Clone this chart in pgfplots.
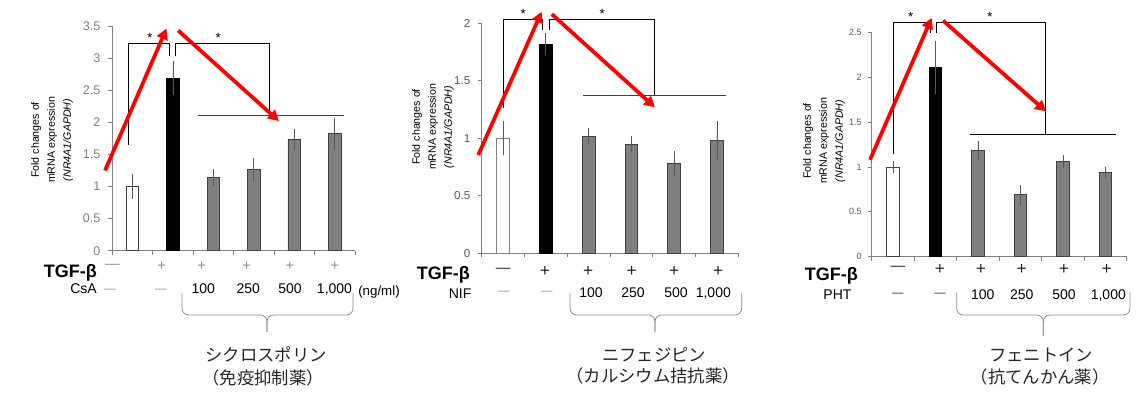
\documentclass[border=0pt]{standalone}
\usepackage{pgfplots}
\pgfplotsset{compat=1.18}
\usepackage{fontspec}
\setmainfont{Liberation Sans}
\newfontfamily\jp{Noto Sans CJK JP}
\usetikzlibrary{arrows.meta}
\definecolor{barGray}{HTML}{7F7F7F}
\definecolor{edgeGray}{HTML}{404040}
\definecolor{errGray}{HTML}{595959}
\definecolor{axGray}{HTML}{808080}
\definecolor{tickTxtA}{HTML}{7F7F7F}
\definecolor{tickTxtB}{HTML}{595959}
\definecolor{signLight}{HTML}{8C8C8C}
\definecolor{signDark}{HTML}{262626}
\definecolor{braceGray}{HTML}{8C8C8C}
\definecolor{arrowRed}{HTML}{FF0000}

\pgfplotsset{
  panel/.style={
    scale only axis, anchor=south west,
    xmin=-0.5, xmax=5.5, ymin=0,
    axis x line*=bottom, axis y line*=left,
    axis line style={axGray, line width=0.6pt},
    xtick={-0.5,0.5,...,5.5}, xticklabels={},
    xtick align=outside, ytick align=outside,
    major tick length=3pt,
    tick style={axGray, line width=0.6pt},
    ybar, bar width=9.5pt,
    clip=false,
    /pgf/number format/assume math mode=true,
  },
  eb/.style={bar shift=0pt, draw=edgeGray, line width=0.6pt,
    error bars/y dir=both, error bars/y explicit,
    error bars/error bar style={errGray, line width=0.6pt},
    error bars/error mark options={errGray, line width=0.6pt, mark size=2.3pt}},
}
\tikzset{
  star/.style={anchor=base, inner sep=0pt, font=\fontsize{10}{10}\selectfont, yshift=1pt},
  brk/.style={black, line width=0.7pt},
  hl/.style={black!75, line width=0.7pt},
  redarr/.style={arrowRed, line width=2.8pt, -{Triangle[length=8pt,width=8.5pt]}},
}

\begin{document}
\begin{tikzpicture}[x=0.75pt,y=-0.75pt]
\useasboundingbox (0,0) rectangle (1141,399);

% ---------------- Panel 1 (CsA) ----------------
\begin{axis}[panel, at={(84.225pt,-188.025pt)}, width=182.0pt, height=168.5pt,
  ymax=3.5, ytick={0,0.5,...,3.5},
  yticklabel style={font=\fontsize{9.4}{10}\selectfont, text=tickTxtA, xshift=-2.5pt}]
\addplot[eb, fill=white] coordinates {(0,1.00) +- (0,0.14)};
\addplot[eb, fill=black, draw=black] coordinates {(1,2.69) +- (0,0.22)};
\addplot[eb, fill=barGray] coordinates {(2,1.14) +- (0,0.08) (3,1.26) +- (0,0.13) (4,1.73) +- (0,0.12) (5,1.82) +- (0,0.20)};
\draw[brk] (axis cs:-0.088,1.65) -- (axis cs:-0.088,3.23) -- (axis cs:0.925,3.23) -- (axis cs:0.925,3.03);
\draw[brk] (axis cs:1.07,3.03) -- (axis cs:1.07,3.23) -- (axis cs:3.38,3.23) -- (axis cs:3.38,2.11);
\draw[hl] (axis cs:1.63,2.11) -- (axis cs:5.23,2.11);
\node[star] at (axis cs:0.43,3.23) {*};
\node[star] at (axis cs:2.12,3.23) {*};
\draw[redarr] (axis cs:-0.68,1.25) -- (axis cs:0.84,3.46);
\draw[redarr] (axis cs:1.13,3.43) -- (axis cs:3.62,2.02);
\end{axis}

% ---------------- Panel 2 (NIF) ----------------
\begin{axis}[panel, at={(361.275pt,-190.0pt)}, width=192.45pt, height=172.5pt,
  ymax=2, ytick={0,0.5,...,2},
  yticklabel style={font=\fontsize{8.7}{10}\selectfont, text=tickTxtB, xshift=-2pt}]
\addplot[eb, fill=white, draw=axGray] coordinates {(0,1.00) +- (0,0.12)};
\addplot[eb, fill=black, draw=black] coordinates {(1,1.82) +- (0,0.07)};
\addplot[eb, fill=barGray] coordinates {(2,1.02) +- (0,0.04) (3,0.95) +- (0,0.04) (4,0.78) +- (0,0.08) (5,0.98) +- (0,0.14)};
\draw[brk] (axis cs:0.02,1.26) -- (axis cs:0.02,2.03) -- (axis cs:0.916,2.03) -- (axis cs:0.916,1.94);
\draw[brk] (axis cs:1.096,1.94) -- (axis cs:1.096,2.03) -- (axis cs:3.55,2.03) -- (axis cs:3.55,1.37);
\draw[hl] (axis cs:1.87,1.37) -- (axis cs:5.22,1.37);
\node[star] at (axis cs:0.47,2.03) {*};
\node[star] at (axis cs:2.32,2.03) {*};
\draw[redarr] (axis cs:-0.58,0.855) -- (axis cs:0.90,2.10);
\draw[redarr] (axis cs:1.14,2.08) -- (axis cs:3.55,1.27);
\end{axis}

% ---------------- Panel 3 (PHT) ----------------
\begin{axis}[panel, at={(653.775pt,-192.525pt)}, width=191.25pt, height=168.3pt,
  ymax=2.5, ytick={0,0.5,...,2.5},
  yticklabel style={font=\fontsize{6.8}{8}\selectfont, text=tickTxtB, xshift=-1pt}]
\addplot[eb, fill=white] coordinates {(0,1.00) +- (0,0.03)};
\addplot[eb, fill=black, draw=black] coordinates {(1,2.11) +- (0,0.26)};
\addplot[eb, fill=barGray] coordinates {(2,1.18) +- (0,0.07) (3,0.69) +- (0,0.08) (4,1.06) +- (0,0.04) (5,0.94) +- (0,0.03)};
\draw[brk] (axis cs:0.008,1.14) -- (axis cs:0.008,2.61) -- (axis cs:0.888,2.61) -- (axis cs:0.888,2.49);
\draw[brk] (axis cs:1.03,2.49) -- (axis cs:1.03,2.61) -- (axis cs:3.58,2.61) -- (axis cs:3.58,1.36);
\draw[brk] (axis cs:1.81,1.36) -- (axis cs:5.25,1.36);
\node[star] at (axis cs:0.418,2.61) {*};
\node[star] at (axis cs:2.28,2.61) {*};
\draw[redarr] (axis cs:-0.54,1.08) -- (axis cs:0.91,2.66);
\draw[redarr] (axis cs:1.18,2.63) -- (axis cs:3.60,1.62);
\end{axis}

% ---------------- Y labels ----------------
\node[rotate=90, align=center, font=\fontsize{8}{12}\selectfont] at (52,140) {Fold changes of\\mRNA expression\\\textit{(NR4A1/GAPDH)}};
\node[rotate=90, align=center, font=\fontsize{8}{12}\selectfont] at (433,127) {Fold changes of\\mRNA expression\\\textit{(NR4A1/GAPDH)}};
\node[rotate=90, align=center, font=\fontsize{8}{12}\selectfont] at (824,141) {Fold changes of\\mRNA expression\\\textit{(NR4A1/GAPDH)}};

% ---------------- Row labels panel 1 ----------------
\begin{scope}[every node/.style={inner sep=0pt}]
\node[anchor=base east, font=\fontsize{13.5}{14}\selectfont\bfseries] at (97,277) {TGF-β};
\node[anchor=base east, font=\fontsize{10.5}{12}\selectfont] at (97,293) {CsA};
\foreach \xx in {161.7,201.7,246.7,290,335}{\node[text=signLight, font=\fontsize{11}{12}\selectfont] at (\xx,266.7) {+};}
\node[text=signLight, font=\fontsize{11}{12}\selectfont] at (112.5,266) {—};
\node[text=signLight, font=\fontsize{8.5}{10}\selectfont] at (110,290.7) {—};
\node[text=signLight, font=\fontsize{8.5}{10}\selectfont] at (160.7,290.7) {—};
\node[anchor=base, font=\fontsize{10.5}{12}\selectfont] at (203.3,293) {100};
\node[anchor=base, font=\fontsize{10.5}{12}\selectfont] at (248.3,293) {250};
\node[anchor=base, font=\fontsize{10.5}{12}\selectfont] at (290,293) {500};
\node[anchor=base, font=\fontsize{10.5}{12}\selectfont] at (334.5,293) {1,000};
\node[anchor=base west, font=\fontsize{10}{12}\selectfont] at (358,295) {(ng/ml)};

% ---------------- Row labels panel 2 ----------------
\node[anchor=base east, font=\fontsize{13.5}{14}\selectfont\bfseries] at (470,279) {TGF-β};
\node[anchor=base east, font=\fontsize{10.5}{12}\selectfont] at (471.7,298) {NIF};
\foreach \xx in {545,588.3,631.7,674.3,718.3}{\node[text=signDark, font=\fontsize{13}{14}\selectfont] at (\xx,271) {+};}
\node[text=signDark, font=\fontsize{11}{12}\selectfont] at (503.3,270) {—};
\node[text=signLight, font=\fontsize{8.5}{10}\selectfont] at (504,293.3) {—};
\node[text=signLight, font=\fontsize{8.5}{10}\selectfont] at (546.7,293.3) {—};
\node[anchor=base, font=\fontsize{10.5}{12}\selectfont] at (591,297) {100};
\node[anchor=base, font=\fontsize{10.5}{12}\selectfont] at (633,297) {250};
\node[anchor=base, font=\fontsize{10.5}{12}\selectfont] at (676,297) {500};
\node[anchor=base, font=\fontsize{10.5}{12}\selectfont] at (713.3,297) {1,000};

% ---------------- Row labels panel 3 ----------------
\node[anchor=base east, font=\fontsize{13.5}{14}\selectfont\bfseries] at (858,280) {TGF-β};
\node[anchor=base east, font=\fontsize{10.5}{12}\selectfont] at (851.7,299) {PHT};
\foreach \xx in {940,981,1021.7,1064,1106.7}{\node[text=signDark, font=\fontsize{13}{14}\selectfont] at (\xx,269) {+};}
\node[text=signDark, font=\fontsize{11}{12}\selectfont] at (898,268) {—};
\node[text=signDark, font=\fontsize{8.5}{10}\selectfont] at (897.7,295) {—};
\node[text=signDark, font=\fontsize{8.5}{10}\selectfont] at (940,295) {—};
\node[anchor=base, font=\fontsize{10.5}{12}\selectfont] at (982.7,299) {100};
\node[anchor=base, font=\fontsize{10.5}{12}\selectfont] at (1021.7,299) {250};
\node[anchor=base, font=\fontsize{10.5}{12}\selectfont] at (1064,299) {500};
\node[anchor=base, font=\fontsize{10.5}{12}\selectfont] at (1108.3,299) {1,000};
\end{scope}

% ---------------- Braces ----------------
\draw[braceGray, line width=0.6pt, rounded corners=5pt] (182,293) -- (182,315) -- (267,315) -- (267,332);
\draw[braceGray, line width=0.6pt, rounded corners=5pt] (353,293) -- (353,315) -- (267,315) -- (267,332);
\draw[braceGray, line width=0.6pt, rounded corners=5pt] (570,293) -- (570,315) -- (655,315) -- (655,332);
\draw[braceGray, line width=0.6pt, rounded corners=5pt] (741.7,293) -- (741.7,315) -- (655,315) -- (655,332);
\draw[braceGray, line width=0.6pt, rounded corners=5pt] (956.7,292) -- (956.7,315) -- (1043.3,315) -- (1043.3,336);
\draw[braceGray, line width=0.6pt, rounded corners=5pt] (1130,292) -- (1130,315) -- (1043.3,315) -- (1043.3,336);

% ---------------- Japanese captions ----------------
\node[font=\jp\fontsize{13}{14}\selectfont, text=signDark] at (266,355) {シクロスポリン};
\node[font=\jp\fontsize{13}{14}\selectfont, text=signDark] at (263,378) {（免疫抑制薬）};
\node[font=\jp\fontsize{13}{14}\selectfont, text=signDark] at (654,355) {ニフェジピン};
\node[font=\jp\fontsize{13}{14}\selectfont, text=signDark] at (653,376) {（カルシウム拮抗薬）};
\node[font=\jp\fontsize{13}{14}\selectfont, text=signDark] at (1041,355) {フェニトイン};
\node[font=\jp\fontsize{13}{14}\selectfont, text=signDark] at (1040,377) {（抗てんかん薬）};
\end{tikzpicture}
\end{document}
